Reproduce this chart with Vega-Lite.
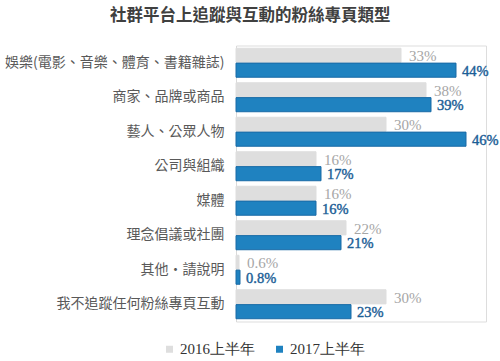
{
  "$schema": "https://vega.github.io/schema/vega-lite/v6.json",
  "width": 250,
  "height": 276,
  "autosize": {"type": "none"},
  "padding": {"left": 236, "top": 45.5, "right": 14, "bottom": 39.5},
  "background": "white",
  "title": {
    "text": "社群平台上追蹤與互動的粉絲專頁類型",
    "font": "Noto Sans CJK TC",
    "fontSize": 16.5,
    "fontWeight": "bold",
    "color": "#404040",
    "anchor": "start",
    "frame": "group",
    "dx": -126,
    "offset": 21
  },
  "data": {
    "values": [
      {"category": "娛樂(電影、音樂、體育、書籍雜誌)", "series": "2016上半年", "value": 33, "label": "33%"},
      {"category": "娛樂(電影、音樂、體育、書籍雜誌)", "series": "2017上半年", "value": 44, "label": "44%"},
      {"category": "商家、品牌或商品", "series": "2016上半年", "value": 38, "label": "38%"},
      {"category": "商家、品牌或商品", "series": "2017上半年", "value": 39, "label": "39%"},
      {"category": "藝人、公眾人物", "series": "2016上半年", "value": 30, "label": "30%"},
      {"category": "藝人、公眾人物", "series": "2017上半年", "value": 46, "label": "46%"},
      {"category": "公司與組織", "series": "2016上半年", "value": 16, "label": "16%"},
      {"category": "公司與組織", "series": "2017上半年", "value": 17, "label": "17%"},
      {"category": "媒體", "series": "2016上半年", "value": 16, "label": "16%"},
      {"category": "媒體", "series": "2017上半年", "value": 16, "label": "16%"},
      {"category": "理念倡議或社團", "series": "2016上半年", "value": 22, "label": "22%"},
      {"category": "理念倡議或社團", "series": "2017上半年", "value": 21, "label": "21%"},
      {"category": "其他‧請說明", "series": "2016上半年", "value": 0.6, "label": "0.6%"},
      {"category": "其他‧請說明", "series": "2017上半年", "value": 0.8, "label": "0.8%"},
      {"category": "我不追蹤任何粉絲專頁互動", "series": "2016上半年", "value": 30, "label": "30%"},
      {"category": "我不追蹤任何粉絲專頁互動", "series": "2017上半年", "value": 23, "label": "23%"}
    ]
  },
  "encoding": {
    "y": {
      "field": "category",
      "type": "nominal",
      "sort": null,
      "scale": {"paddingInner": 0.16, "paddingOuter": 0.08},
      "axis": {
        "title": null,
        "ticks": false,
        "labelPadding": 12,
        "labelFontSize": 14,
        "labelFont": "Noto Sans CJK TC",
        "labelColor": "#595959",
        "domainColor": "#d9d9d9",
        "labelLimit": 300
      }
    },
    "yOffset": {
      "field": "series",
      "type": "nominal",
      "sort": ["2016上半年", "2017上半年"],
      "scale": {"paddingInner": 0.05}
    },
    "x": {
      "field": "value",
      "type": "quantitative",
      "scale": {"domain": [0, 50]},
      "axis": null
    }
  },
  "layer": [
    {
      "mark": {"type": "bar", "strokeWidth": 1},
      "encoding": {
        "color": {
          "field": "series",
          "type": "nominal",
          "scale": {"domain": ["2016上半年", "2017上半年"], "range": ["#dedede", "#1f82c0"]},
          "legend": {
            "orient": "none",
            "legendX": -74,
            "legendY": 296,
            "direction": "horizontal",
            "title": null,
            "symbolType": "square",
            "symbolSize": 49,
            "symbolStrokeWidth": 0,
            "labelFont": "Liberation Serif",
            "labelFontSize": 15,
            "labelColor": "#333333",
            "labelOffset": 3,
            "columnPadding": 17
          }
        },
        "stroke": {
          "condition": {"test": "datum.series === '2017上半年'", "value": "#1a6ba6"},
          "value": "#dedede"
        }
      }
    },
    {
      "transform": [{"filter": "datum.series === '2016上半年'"}],
      "mark": {"type": "text", "align": "left", "baseline": "middle", "dx": 8, "dy": 1, "font": "Liberation Serif", "fontSize": 15, "color": "#a6a6a6"},
      "encoding": {"text": {"field": "label"}}
    },
    {
      "transform": [{"filter": "datum.series === '2017上半年'"}],
      "mark": {"type": "text", "align": "left", "baseline": "middle", "dx": 6, "dy": 1.5, "font": "Liberation Serif", "fontSize": 14.5, "color": "#1b5e96", "stroke": "#1b5e96", "strokeWidth": 0.4},
      "encoding": {"text": {"field": "label"}}
    }
  ]
}
